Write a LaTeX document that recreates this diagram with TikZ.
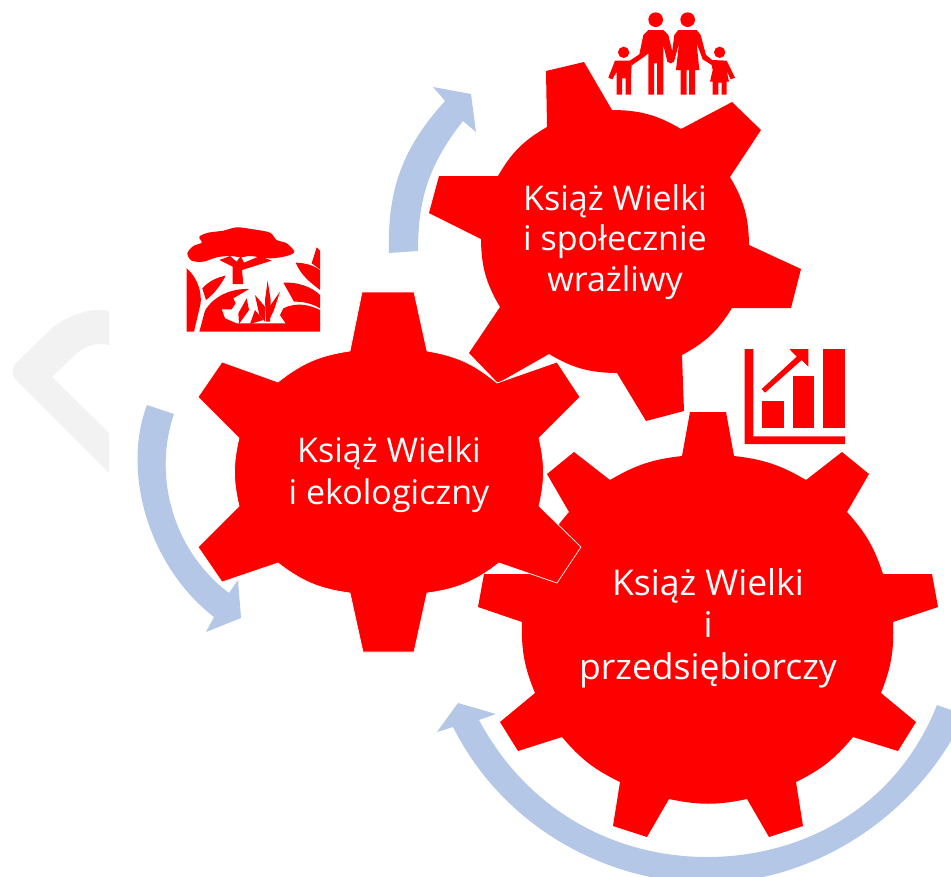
\documentclass[tikz,border=0pt]{standalone}
\usepackage{fontspec}
\setmainfont{Open Sans}
\definecolor{gearred}{RGB}{255,0,0}
\definecolor{flowblue}{RGB}{180,199,231}
\definecolor{ghostgray}{RGB}{242,242,242}
\begin{document}
\begin{tikzpicture}[x=1pt,y=-1pt,
  gearbody/.style={fill=gearred},
  flowarrow/.style={fill=flowblue},
  icon/.style={fill=gearred},
  root/.style={bend left=#1},
  geartext/.style 2 args={text=white,align=center,font=\fontsize{#1}{#2}\selectfont}]
\useasboundingbox (0,0) rectangle (951,876);
\clip (0,0) rectangle (951,876);
\fill[ghostgray] (109,311) .. controls (90,307) and (70,315) .. (53,327)--(17,362) .. controls (11,368) and (11,375) .. (17,381)--(109,473)--(109,433)--(52,377)--(77,353) .. controls (85,346) and (97,342) .. (109,345)--cycle;
\fill[flowarrow] (389,253) to[bend left=22] (445,101)--(433,87)--(471,94)--(476,132)--(463,121) to[bend right=19] (418,251)--cycle;
\fill[flowarrow] (147,405) .. controls (122,470) and (147,565) .. (214,617)--(206,632)--(241,618)--(238,580)--(229,593) .. controls (172,550) and (153,475) .. (174,414)--cycle;
\fill[flowarrow] (479,720) .. controls (530,815) and (620,857) .. (707,857) .. controls (800,857) and (895,810) .. (937,705)--(965,715) .. controls (915,820) and (810,883) .. (708,883) .. controls (610,883) and (505,830) .. (453,727)--(437,732)--(458,703)--(496,714)--cycle;
\fill[gearbody] (690,412)--(726,412)--(734,456) to[root=12] (806,480)--(842,452)--(869,474)--(847,512) to[root=12] (883,574)--(932,574)--(938,607)--(893,622) to[root=12] (881,693)--(916,722)--(898,751)--(853,737) to[root=12] (796,782)--(803,826)--(769,837)--(747,799) to[root=12] (669,799)--(647,837)--(613,826)--(620,782) to[root=12] (562,737)--(518,751)--(500,722)--(535,693) to[root=12] (522,622)--(478,607)--(484,574)--(535,574) to[root=12] (569,512)--(547,474)--(574,452)--(610,480) to[root=12] (682,456)--cycle;
\fill[gearbody] (546,71)--(584,62)--(612,110) to[root=15] (681,129)--(732,102)--(761,130)--(730,177) to[root=15] (749,245)--(801,269)--(791,308)--(732,308) to[root=15] (682,355)--(684,411)--(646,421)--(617,373) to[root=15] (549,354)--(498,383)--(469,353)--(500,307) to[root=15] (481,239)--(429,213)--(439,176)--(498,176) to[root=15] (547,127)--cycle;
\draw[gearbody,draw=white,line width=0.7pt] (362,292)--(414,292)--(427,351) to[root=15] (497,383)--(557,362)--(580,397)--(539,438) to[root=13] (539,506)--(581,547)--(557,583)--(499,563) to[root=15] (427,593)--(414,652)--(363,652)--(350,593) to[root=15] (278,563)--(222,582)--(198,547)--(239,506) to[root=13] (239,438)--(198,397)--(222,362)--(278,382) to[root=15] (350,351)--cycle;
\node[geartext={34}{40.5}] (social) at (615,242) {Książ Wielki\\i społecznie\\wrażliwy};
\node[geartext={34}{42}] (eco) at (389,475) {Książ Wielki\\i ekologiczny};
\node[geartext={35.5}{42}] (business) at (708,628) {Książ Wielki\\i\\przedsiębiorczy};
\begin{scope}[shift={(580,0)},scale=1/3]
\fill[icon] (227,59) circle (22);
\fill[icon] (323,59) circle (22);
\fill[icon] (131,157) circle (17);
\fill[icon] (419,157) circle (17);
\fill[icon] (205,90)--(250,90)--(265,105)--(282,175)--(272,190)--(262,185)--(250,135)--(250,284)--(231,284)--(231,190)--(222,190)--(222,284)--(205,284)--(205,160)--(190,172)--(155,196)--(148,183)--(178,163)--(190,105)--cycle;
\fill[icon] (295,90)--(350,90)--(362,105)--(378,165)--(400,183)--(395,195)--(368,178)--(350,130)--(358,210)--(345,210)--(345,284)--(327,284)--(327,210)--(320,210)--(320,284)--(302,284)--(302,210)--(288,210)--(297,130)--(282,185)--(272,190)--(275,165)--(283,105)--cycle;
\fill[icon] (105,182)--(150,182)--(155,195)--(153,235)--(153,284)--(137,284)--(137,235)--(126,235)--(126,284)--(110,284)--(110,215)--(97,238)--(85,233)--(100,195)--cycle;
\fill[icon] (395,180)--(440,182)--(465,233)--(452,238)--(440,212)--(447,245)--(440,245)--(440,284)--(425,284)--(425,248)--(415,248)--(415,284)--(398,284)--(398,245)--(390,245)--(398,210)--(395,195)--cycle;
\end{scope}
\begin{scope}[shift={(730,340)},scale=1/3]
\fill[icon] (44,27)--(70,27)--(70,289)--(345,289)--(345,312)--(44,312)--cycle;
\fill[icon] (96,182) rectangle (161,263);
\fill[icon] (188,108) rectangle (252,263);
\fill[icon] (279,27) rectangle (345,263);
\fill[icon] (95,147)--(200,50)--(178,27)--(235,27)--(235,80)--(215,60)--(105,158)--cycle;
\end{scope}
\begin{scope}[shift={(170,220)},scale=1/3]
\fill[icon] plot[smooth cycle] coordinates {(52,100) (70,78) (95,68) (88,50) (115,38) (160,32) (200,22) (250,28) (300,38) (320,60) (350,70) (373,95) (350,108) (300,115) (240,108) (215,112) (180,108) (140,112) (100,125) (65,122)};
\fill[icon] (148,120)--(188,140)--(188,192)--(220,192)--(216,150)--(305,122)--(270,108)--(222,128)--(212,108)--(200,125)--(180,108)--cycle;
\fill[icon] (50,145) .. controls (85,175) and (95,220) .. (92,250)--(72,335)--(50,335)--cycle;
\fill[icon] (97,205) .. controls (115,185) and (140,172) .. (167,167) .. controls (155,190) and (135,220) .. (108,240)--cycle;
\fill[icon] (88,335)--(105,272) .. controls (130,230) and (180,205) .. (237,207)--(190,235)--(197,250)--(185,268)--(155,268)--(165,295)--(200,310)--(450,310)--(450,335)--cycle;
\fill[icon] (293,182)--(302,240)--(300,305)--(288,305)--(285,240)--cycle;
\fill[icon] (330,215)--(312,270)--(300,295)--(295,265)--cycle;
\fill[icon] (255,225)--(285,260)--(285,305)--(268,285)--cycle;
\fill[icon] (230,235)--(237,270)--(207,312)--(205,280)--cycle;
\fill[icon] (255,270)--(280,300)--(240,312)--cycle;
\fill[icon] (340,188) .. controls (380,185) and (425,200) .. (450,225)--(450,265) .. controls (425,250) and (400,245) .. (372,245)--cycle;
\fill[icon] (377,128) .. controls (405,128) and (435,138) .. (450,150)--(450,210) .. controls (425,190) and (395,170) .. (377,128)--cycle;
\fill[icon] (425,130)--(440,82)--(450,92)--(450,148)--cycle;
\fill[icon] (340,265) .. controls (380,245) and (420,255) .. (450,270)--(450,315)--(350,315)--(330,285)--cycle;
\end{scope}
\end{tikzpicture}
\end{document}
